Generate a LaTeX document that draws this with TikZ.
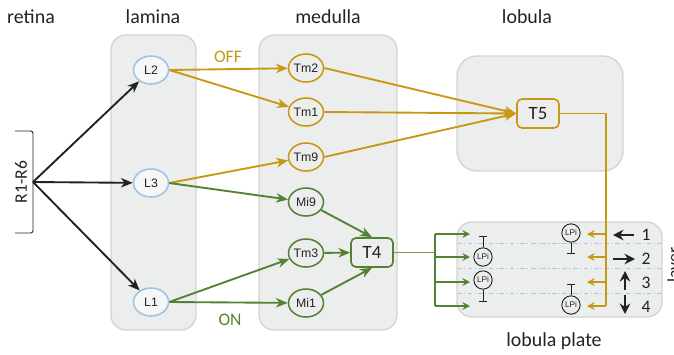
\documentclass[tikz,border=0pt]{standalone}
\usepackage{fontspec}
\setmainfont{Carlito}
\newfontfamily\arialfont{Liberation Sans}
\usetikzlibrary{arrows.meta,shapes.geometric}
\definecolor{offgold}{RGB}{200,152,20}
\definecolor{ongreen}{RGB}{84,130,53}
\definecolor{lamblue}{RGB}{157,195,230}
\definecolor{boxfill}{RGB}{236,237,237}
\definecolor{boxline}{RGB}{212,212,212}
\definecolor{layerline}{RGB}{170,195,235}
\definecolor{txt}{RGB}{34,34,34}
\begin{document}
\begin{tikzpicture}[x=0.03cm, y=-0.03cm, line join=round,
  title/.style={text=txt, font=\fontsize{17}{20}\selectfont},
  region/.style={draw=boxline, line width=1.2pt, fill=boxfill, rounded corners=0.45cm},
  cell/.style={ellipse, draw, line width=1.3pt, fill=boxfill, text=txt, inner sep=0pt,
    minimum width=1.05cm, minimum height=0.84cm, font=\arialfont\fontsize{10.5}{12}\selectfont},
  lcell/.style={cell, draw=lamblue, fill=white!50!boxfill},
  offcell/.style={cell, draw=offgold},
  oncell/.style={cell, draw=ongreen},
  tcell/.style={rectangle, rounded corners=0.15cm, draw, line width=1.4pt, fill=boxfill, text=txt,
    minimum width=1.26cm, minimum height=0.87cm, font=\fontsize{16}{18}\selectfont},
  lpi/.style={circle, draw=txt, line width=0.8pt, fill=boxfill, inner sep=0pt, minimum size=0.55cm,
    text=txt, font=\arialfont\fontsize{7}{8}\selectfont},
  tip/.style={-{Stealth[length=10pt,width=8pt,inset=3pt]}},
  sig/.style={tip, line width=1.6pt, draw=txt},
  offsig/.style={tip, line width=1.6pt, draw=offgold},
  onsig/.style={tip, line width=1.6pt, draw=ongreen},
  inhib/.style={-{Bar[width=7pt]}, line width=0.8pt, draw=txt},
  dir/.style={-{Stealth[length=9pt,width=9pt,inset=3pt]}, line width=1.6pt, draw=txt},
  layersep/.style={draw=layerline, line width=0.8pt, dash pattern=on 4pt off 2pt on 1pt off 2pt},
  num/.style={text=txt, font=\fontsize{15}{18}\selectfont}]
\useasboundingbox (0,0) rectangle (674,354);

% compartments
\draw[region] (111,35) rectangle (196,330);
\draw[region] (259,35) rectangle (397,330);
\draw[region, rounded corners=0.6cm] (457,56) rectangle (623,171);
\draw[region] (457,222) rectangle (662,317);

\node[title] (retina) at (31,17) {retina};
\node[title] (lamina) at (153,17) {lamina};
\node[title] (medulla) at (328,17) {medulla};
\node[title] (lobula) at (527,17) {lobula};
\node[title] (plate) at (554,341) {lobula plate};
\node[title, rotate=90, font=\fontsize{15}{18}\selectfont] (layer) at (675,265) {layer};

% photoreceptors
\draw[line width=0.8pt, draw=txt, rounded corners=2pt] (15,131) -- (33,131) -- (33,233) -- (15,233);
\node[title, rotate=90, font=\fontsize{15}{18}\selectfont] (rcells) at (21,182) {R1-R6};
\coordinate (rfan) at (33,182);

% lamina
\node[lcell] (L2) at (151,70) {L2};
\node[lcell] (L3) at (151,183) {L3};
\node[lcell] (L1) at (151,302) {L1};

% medulla
\node[offcell] (Tm2) at (306,68) {Tm2};
\node[offcell] (Tm1) at (306,112) {Tm1};
\node[offcell] (Tm9) at (306,157) {Tm9};
\node[oncell] (Mi9) at (306,202) {Mi9};
\node[oncell] (Tm3) at (306,253) {Tm3};
\node[oncell] (Mi1) at (306,303) {Mi1};
\node[tcell, draw=ongreen] (T4) at (372,252.5) {T4};
\node[tcell, draw=offgold] (T5) at (538,113.5) {T5};

\node[text=offgold, font=\fontsize{15}{18}\selectfont] (off) at (228,57) {OFF};
\node[text=ongreen, font=\fontsize{15}{18}\selectfont] (on) at (230,320) {ON};

\draw[sig] (rfan) -- (L2);
\draw[sig] (rfan) -- (L3);
\draw[sig] (rfan) -- (L1);

\draw[offsig] (L2.east) -- (Tm2);
\draw[offsig] (L2.east) -- (Tm1);
\draw[offsig] (L3.east) -- (Tm9);
\draw[offsig] (Tm2.east) -- (T5.west);
\draw[offsig] (Tm1.east) -- (T5.west);
\draw[offsig] (Tm9.east) -- (T5.west);

\draw[onsig] (L3.east) -- (Mi9);
\draw[onsig] (L1.east) -- (Tm3);
\draw[onsig] (L1.east) -- (Mi1);
\draw[onsig] (Mi9) -- (T4.north);
\draw[onsig] (Tm3) -- (T4);
\draw[onsig] (Mi1) -- (T4.south);

% lobula plate layers
\foreach \y in {243,268,293}
  \draw[layersep] (457,\y) -- (662,\y);

\coordinate (gbus) at (435,252.5);
\coordinate (obus) at (606,113.5);
\draw[ongreen!80!white, line width=0.9pt] (T4.east) -- (gbus);
\draw[ongreen, line width=1.4pt] (435,234) -- (435,306);
\draw[offgold, line width=1pt] (T5.east) -- (obus) -- (606,306);
\foreach \y [count=\i] in {234,257,282,306} {
  \coordinate (gin\i) at (435,\y);
  \coordinate (gout\i) at (470,\y);
  \coordinate (oin\i) at (606,\y);
  \coordinate (oout\i) at (587,\y);
  \draw[-{Stealth[length=6.5pt,width=6.5pt,inset=2.2pt]}, ongreen, line width=1.4pt] (gin\i) -- (gout\i);
  \draw[-{Stealth[length=6.5pt,width=6.5pt,inset=2.2pt]}, offgold, line width=1pt] (oin\i) -- (oout\i);
}

\node[lpi] (lpiA) at (483,257) {LPi};
\node[lpi] (lpiB) at (483,280) {LPi};
\node[lpi] (lpiC) at (571,233) {LPi};
\node[lpi] (lpiD) at (571,305) {LPi};
\draw[inhib] (lpiA.north) -- (483,236);
\draw[inhib] (lpiB.south) -- (483,302);
\draw[inhib] (lpiC.south) -- (571,254);
\draw[inhib] (lpiD.north) -- (571,284);

% preferred directions
\node[num] (n1) at (646,235) {1};
\node[num] (n2) at (646,259) {2};
\node[num] (n3) at (646,283) {3};
\node[num] (n4) at (646,307) {4};
\draw[dir] (634,235) -- (613,235);
\draw[dir] (613,259) -- (635,259);
\draw[dir] (625,290) -- (625,271);
\draw[dir] (625,295) -- (625,314);
\end{tikzpicture}
\end{document}
